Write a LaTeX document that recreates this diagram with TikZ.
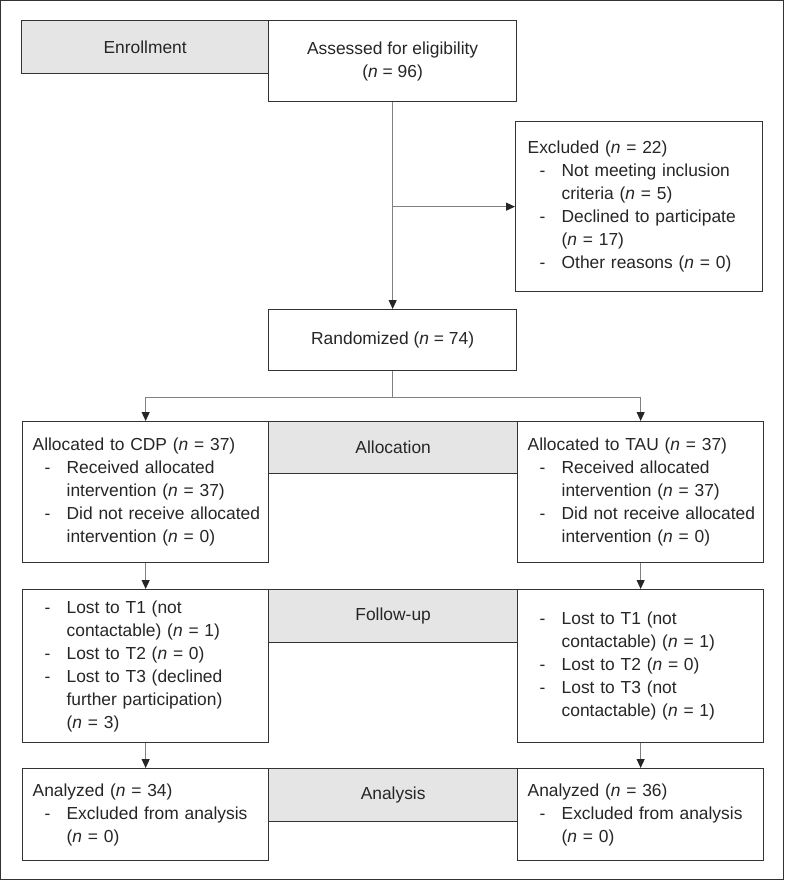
\documentclass[tikz,border=0pt]{standalone}
\usepackage{fontspec}
\setmainfont{Liberation Sans}
\usetikzlibrary{arrows.meta}
\newcommand{\nn}{\textit{n}}
\newcommand{\dl}[1]{\hspace*{12pt}\makebox[22pt][l]{-}\mbox{#1}}
\newcommand{\il}[1]{\hspace*{34pt}\mbox{#1}}
\begin{document}
\begin{tikzpicture}[x=1pt,y=-1pt,
  txt/.style={font=\fontsize{17.4}{23}\selectfont, text=black!85},
  box/.style={txt, draw=black!80, line width=1.3pt, fill=white, inner ysep=0pt, inner xsep=10pt, anchor=north west, align=left},
  cbox/.style={txt, draw=black!80, line width=1.3pt, fill=white, inner sep=0pt, anchor=north west, align=center},
  stage/.style={cbox, fill=black!10},
  conn/.style={draw=black!50, line width=1pt},
  arr/.style={conn, -{Triangle[length=9pt,width=8pt,fill=black!85,color=black!85]}}
]
\useasboundingbox (0,0) rectangle (784,880);
\draw[draw=black!80, line width=1.3pt] (0.8,0.8) rectangle (783.2,879.2);

% stage labels
\node[stage, minimum width=247pt, minimum height=53pt] (enr) at (21,20) {Enrollment};
\node[stage, minimum width=249pt, minimum height=52pt] (alloc) at (268,421) {Allocation};
\node[stage, minimum width=249pt, minimum height=53pt] (fu) at (268,589) {Follow-up};
\node[stage, minimum width=249pt, minimum height=53pt] (ana) at (268,768) {Analysis};

% enrollment
\node[cbox, minimum width=248pt, minimum height=81pt] (assess) at (268,20) {Assessed for eligibility\\(\nn{} = 96)};
\node[box, inner xsep=12pt, minimum width=247pt, minimum height=170pt, text width=223pt] (excl) at (515,121) {Excluded (\nn{} = 22)\\
\dl{Not meeting inclusion}\\
\il{criteria (\nn{} = 5)}\\
\dl{Declined to participate}\\
\il{(\nn{} = 17)}\\
\dl{Other reasons (\nn{} = 0)}};
\node[cbox, minimum width=248pt, minimum height=61pt] (rand) at (268,309) {Randomized (\nn{} = 74)};

% allocation
\node[box, minimum width=246pt, minimum height=141pt, text width=226pt] (cdp) at (22,421) {Allocated to CDP (\nn{} = 37)\\
\dl{Received allocated}\\
\il{intervention (\nn{} = 37)}\\
\dl{Did not receive allocated}\\
\il{intervention (\nn{} = 0)}};
\node[box, minimum width=246pt, minimum height=141pt, text width=226pt] (tau) at (517,421) {Allocated to TAU (\nn{} = 37)\\
\dl{Received allocated}\\
\il{intervention (\nn{} = 37)}\\
\dl{Did not receive allocated}\\
\il{intervention (\nn{} = 0)}};

% follow-up
\node[box, minimum width=246pt, minimum height=153pt, text width=226pt] (fl) at (22,589) {\dl{Lost to T1 (not}\\
\il{contactable) (\nn{} = 1)}\\
\dl{Lost to T2 (\nn{} = 0)}\\
\dl{Lost to T3 (declined}\\
\il{further participation)}\\
\il{(\nn{} = 3)}};
\node[box, minimum width=246pt, minimum height=153pt, text width=226pt] (fr) at (517,589) {\dl{Lost to T1 (not}\\
\il{contactable) (\nn{} = 1)}\\
\dl{Lost to T2 (\nn{} = 0)}\\
\dl{Lost to T3 (not}\\
\il{contactable) (\nn{} = 1)}};

% analysis
\node[box, minimum width=246pt, minimum height=92pt, text width=226pt] (al) at (22,768) {Analyzed (\nn{} = 34)\\
\dl{Excluded from analysis}\\
\il{(\nn{} = 0)}};
\node[box, minimum width=246pt, minimum height=92pt, text width=226pt] (ar) at (517,768) {Analyzed (\nn{} = 36)\\
\dl{Excluded from analysis}\\
\il{(\nn{} = 0)}};

% connectors
\draw[arr] (assess.south) -- (rand.north);
\coordinate (ex) at (assess.south |- excl.west);
\draw[arr] (ex) -- (excl.west);
\coordinate (split) at ([yshift=-26pt]rand.south);
\draw[conn] (rand.south) -- (split);
\draw[arr] (split) -| (cdp.north);
\draw[arr] (split) -| (tau.north);
\draw[arr] (cdp.south) -- (fl.north);
\draw[arr] (tau.south) -- (fr.north);
\draw[arr] (fl.south) -- (al.north);
\draw[arr] (fr.south) -- (ar.north);
\end{tikzpicture}
\end{document}
